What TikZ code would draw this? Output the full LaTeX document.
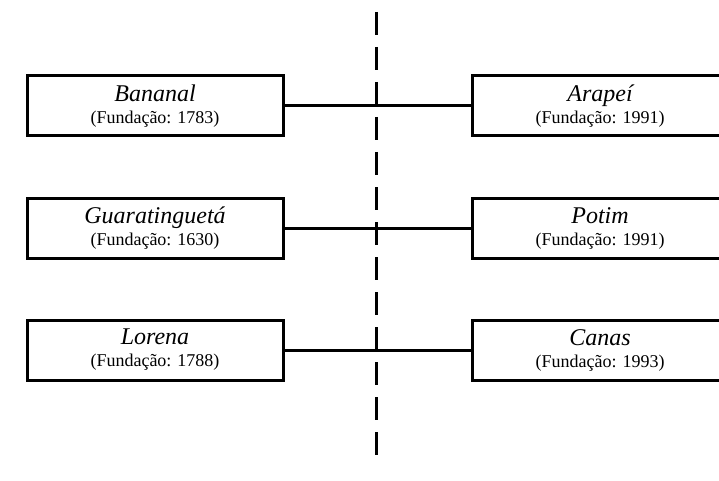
\documentclass[tikz,border=0pt]{standalone}
\usepackage{fontspec}
\setmainfont{Liberation Serif}
\usetikzlibrary{shadows}
\newcommand{\cityname}[1]{{\fontsize{24}{24}\selectfont\itshape #1}}
\begin{document}
\begin{tikzpicture}[x=1pt,y=-1pt,
  city/.style={draw=black, line width=3pt, fill=white, minimum width=256pt, minimum height=60pt,
    align=center, inner sep=0pt, font=\fontsize{18}{20}\selectfont,
    drop shadow={shadow xshift=1.5pt, shadow yshift=-1.5pt, fill=black!35, opacity=0.6}},
  link/.style={line width=3pt},
  divider/.style={line width=3pt, dash pattern=on 23pt off 12pt}
]
\useasboundingbox (0,0) rectangle (719,481);
\clip (0,0) rectangle (719,481);
\fill[white] (0,0) rectangle (719,481);
\coordinate (dtop) at (376,12);
\coordinate (dbot) at (376,466);
\draw[divider] (dtop) -- (dbot);
\node[city] (l1) at (155,106) {\cityname{Bananal}\\[2pt](Fundação: 1783)};
\node[city] (r1) at (600,106) {\cityname{Arapeí}\\[2pt](Fundação: 1991)};
\node[city] (l2) at (155,228) {\cityname{Guaratinguetá}\\[2pt](Fundação: 1630)};
\node[city] (r2) at (600,228) {\cityname{Potim}\\[2pt](Fundação: 1991)};
\node[city] (l3) at (155,350) {\cityname{Lorena}\\[2pt](Fundação: 1788)};
\node[city] (r3) at (600,350) {\cityname{Canas}\\[2pt](Fundação: 1993)};
\draw[link] (l1) -- (r1);
\draw[link] (l2) -- (r2);
\draw[link] (l3) -- (r3);
\end{tikzpicture}
\end{document}
